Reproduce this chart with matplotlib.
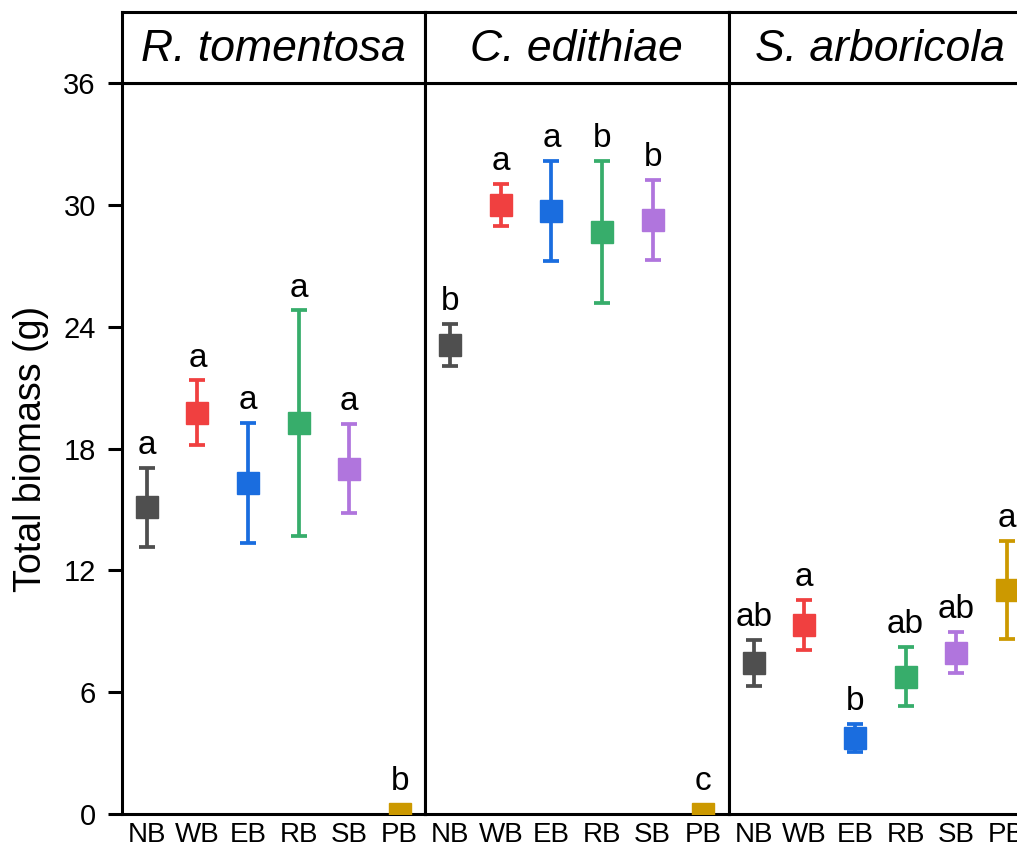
import matplotlib
matplotlib.use("Agg")
import matplotlib.pyplot as plt
import numpy as np

plt.rcParams['font.family'] = ['Liberation Sans', 'DejaVu Sans']

species = ["R. tomentosa", "C. edithiae", "S. arboricola"]
treatments = ["NB", "WB", "EB", "RB", "SB", "PB"]
colors = ["#4f4f4f", "#f04040", "#1a6ddf", "#37ad6b", "#b075dd", "#cc9900"]

means = {
    "R. tomentosa": [15.1, 19.75, 16.3, 19.25, 17.0, 0.0],
    "C. edithiae": [23.1, 30.0, 29.7, 28.65, 29.25, 0.0],
    "S. arboricola": [7.42, 9.3, 3.73, 6.77, 7.95, 11.03],
}
errors = {
    "R. tomentosa": [1.95, 1.6, 2.95, 5.55, 2.2, 0.0],
    "C. edithiae": [1.05, 1.03, 2.47, 3.5, 1.97, 0.0],
    "S. arboricola": [1.13, 1.23, 0.7, 1.47, 1.0, 2.42],
}
letters = {
    "R. tomentosa": ["a", "a", "a", "a", "a", "b"],
    "C. edithiae": ["b", "a", "a", "b", "b", "c"],
    "S. arboricola": ["ab", "a", "b", "ab", "ab", "a"],
}
yticks = [0, 6, 12, 18, 24, 30, 36]

W, H = 1017, 849
fig = plt.figure(figsize=(W / 100, H / 100), dpi=100)

left0 = 121.5
pw = 303.5
y_bot = 814
y_top = 83
y_head = 12
lw = 2.2

for i, sp in enumerate(species):
    x0 = left0 + i * pw
    ax = fig.add_axes([x0 / W, (H - y_bot) / H, pw / W, (y_bot - y_top) / H])
    hx = fig.add_axes([x0 / W, (H - y_top) / H, pw / W, (y_top - y_head) / H])
    hx.set_xticks([]); hx.set_yticks([])
    for s in hx.spines.values():
        s.set_linewidth(lw)
    hx.text(0.5, 0.47, sp, transform=hx.transAxes, ha='center', va='center',
            fontsize=32, style='italic')

    x = np.arange(len(treatments))
    m = means[sp]; e = errors[sp]
    for j in range(len(treatments)):
        ax.errorbar(x[j], m[j], yerr=e[j], fmt='s', color=colors[j],
                    markersize=15.5, markeredgecolor=colors[j],
                    ecolor=colors[j], elinewidth=2.7, capsize=6, capthick=2.7,
                    zorder=3)
        top = max(m[j] + e[j], m[j] + 0.52)
        ax.annotate(letters[sp][j], xy=(x[j], top), xytext=(0, 10),
                    textcoords='offset points', ha='center', va='baseline',
                    fontsize=24)
    ax.set_xlim(-0.5, len(treatments) - 0.5)
    ax.set_ylim(0, 36)
    ax.set_xticks(x)
    ax.set_xticklabels(treatments, fontsize=20)
    ax.tick_params(axis='x', length=0, pad=6)
    for s in ax.spines.values():
        s.set_linewidth(lw)
    if i == 0:
        ax.set_yticks(yticks)
        ax.set_yticklabels([str(t) for t in yticks], fontsize=21)
        ax.tick_params(axis='y', direction='out', length=10, width=lw, pad=8.5)
        ax.set_ylabel("Total biomass (g)", fontsize=27)
        ax.yaxis.set_label_coords(-0.239, 0.5)
    else:
        ax.set_yticks([])

fig.savefig("out.png", dpi=100)
